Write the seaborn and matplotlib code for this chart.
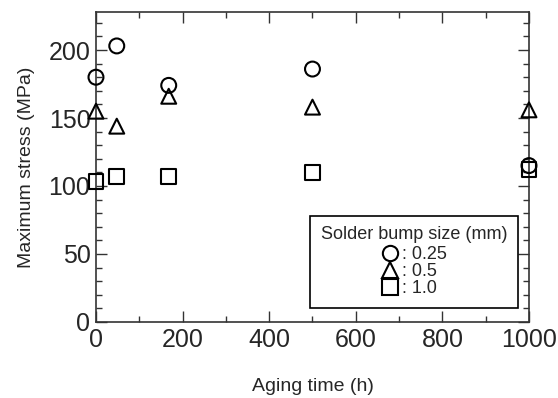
import matplotlib
matplotlib.use("Agg")
import matplotlib.pyplot as plt
from matplotlib.lines import Line2D
from matplotlib.ticker import MultipleLocator
import seaborn as sns
import pandas as pd

# Data
aging_time = [0, 48, 168, 500, 1000]
stress_025 = [180, 203, 174, 186, 115]
stress_05 = [155, 144, 166, 158, 156]
stress_10 = [103, 107, 107, 110, 112]
sizes = ["0.25", "0.5", "1.0"]
size_labels = [": 0.25", ": 0.5", ": 1.0"]

df = pd.DataFrame({
    "time": aging_time * 3,
    "stress": stress_025 + stress_05 + stress_10,
    "size": [sizes[0]] * 5 + [sizes[1]] * 5 + [sizes[2]] * 5,
})

sns.set_style("ticks")
plt.rcParams["font.family"] = ["Liberation Sans", "DejaVu Sans"]

fig = plt.figure(figsize=(5.58, 3.98), dpi=100)
ax = fig.add_axes([0.172, 0.191, 0.776, 0.779])

markers = {"0.25": "o", "0.5": "^", "1.0": "s"}
sns.scatterplot(data=df, x="time", y="stress", style="size", markers=markers,
                s=115, facecolor="none", edgecolor="black", linewidth=1.5,
                ax=ax, legend=False, clip_on=False, zorder=3)

ax.set_xlim(0, 1000)
ax.set_ylim(0, 228)
ax.xaxis.set_major_locator(MultipleLocator(200))
ax.xaxis.set_minor_locator(MultipleLocator(100))
ax.yaxis.set_major_locator(MultipleLocator(50))
ax.yaxis.set_minor_locator(MultipleLocator(10))
ax.tick_params(which="both", direction="in", top=True, right=True,
               color="#333333", width=1.0)
ax.tick_params(which="major", length=8, labelsize=18, pad=4)
ax.tick_params(which="minor", length=4)
for sp in ax.spines.values():
    sp.set_linewidth(1.2)
    sp.set_color("#333333")

ax.set_xlabel("Aging time (h)", fontsize=14, labelpad=19)
ax.set_ylabel("Maximum stress (MPa)", fontsize=14, labelpad=10)

handles = [Line2D([], [], linestyle="none", marker=markers[s], markersize=11,
                  markerfacecolor="none", markeredgecolor="black",
                  markeredgewidth=1.5) for s in sizes]
leg = ax.legend(handles, size_labels, title="Solder bump size (mm)",
                loc="lower right", bbox_to_anchor=(0.975, 0.045),
                fontsize=13, title_fontsize=13, frameon=True,
                fancybox=False, edgecolor="black", labelspacing=0.0,
                handlelength=0.9, handletextpad=0.2, borderpad=0.6,
                borderaxespad=0.0, framealpha=1)
leg.get_frame().set_linewidth(1.2)
leg._legend_box.sep = 2

fig.savefig("out.png", dpi=100)
